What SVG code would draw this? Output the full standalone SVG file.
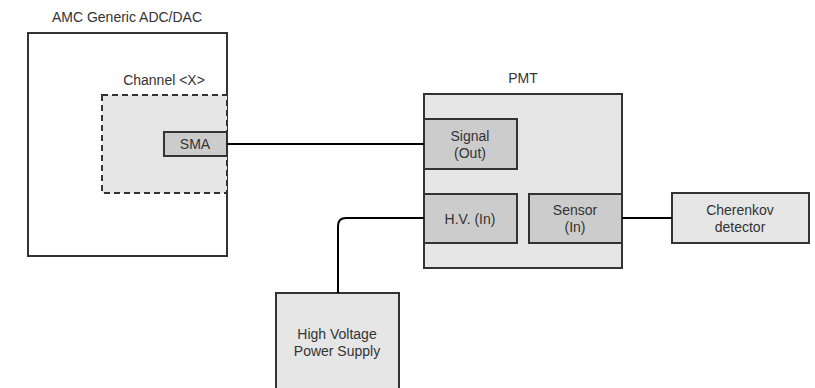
<svg xmlns="http://www.w3.org/2000/svg" width="815" height="388" viewBox="0 0 815 388">
<style>
text{font-family:"Liberation Sans",Arial,sans-serif;font-size:14px;fill:#333;text-anchor:middle}
.box{stroke:#333;stroke-width:2}
.light{fill:#e6e6e6}
.dark{fill:#cccccc}
.white{fill:#fff}
.wire{fill:none;stroke:#000;stroke-width:2}
</style>
<rect width="815" height="388" fill="#fff"/>
<g id="amc">
<rect class="box white" x="28" y="33" width="199" height="223"/>
<text x="127" y="22">AMC Generic ADC/DAC</text>
</g>
<g id="channel">
<rect x="102" y="95" width="125" height="98" fill="#e6e6e6" stroke="#333" stroke-width="2" stroke-dasharray="6 4"/>
<text x="164" y="85">Channel &lt;X&gt;</text>
</g>
<g id="sma">
<rect class="box dark" x="164" y="132" width="63" height="24"/>
<text x="195" y="149">SMA</text>
</g>
<g id="pmt">
<rect class="box light" x="424" y="94" width="198" height="174"/>
<text x="523" y="83">PMT</text>
</g>
<g id="signal">
<rect class="box dark" x="424" y="119" width="93" height="50"/>
<text x="470" y="141">Signal</text>
<text x="470" y="158">(Out)</text>
</g>
<g id="hv">
<rect class="box dark" x="424" y="194" width="93" height="49"/>
<text x="470" y="224">H.V. (In)</text>
</g>
<g id="sensor">
<rect class="box dark" x="529" y="194" width="93" height="49"/>
<text x="575" y="215">Sensor</text>
<text x="575" y="232">(In)</text>
</g>
<g id="cherenkov">
<rect class="box light" x="672" y="193" width="137" height="50"/>
<text x="740" y="215">Cherenkov</text>
<text x="740" y="232">detector</text>
</g>
<g id="hvps">
<rect class="box light" x="276" y="293" width="123" height="110"/>
<text x="337" y="339">High Voltage</text>
<text x="337" y="356">Power Supply</text>
</g>
<g id="connectors">
<path class="wire" d="M227 144H424"/>
<path class="wire" d="M622 218H672"/>
<path class="wire" d="M338 293V226Q338 218 346 218H424"/>
</g>
</svg>
